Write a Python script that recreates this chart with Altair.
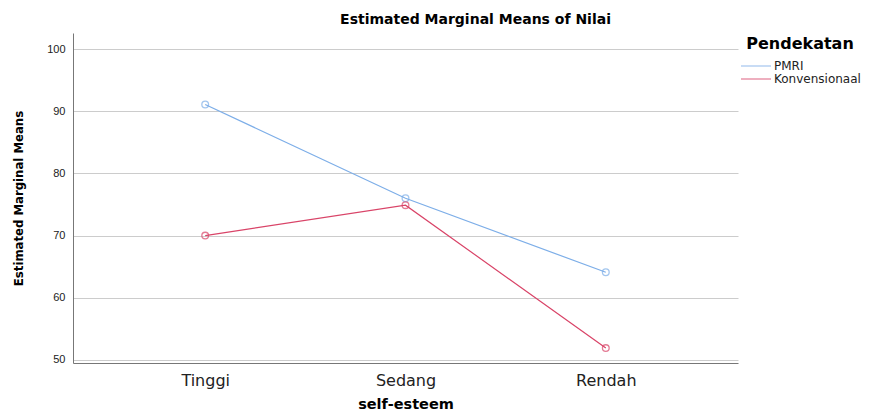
import altair as alt
import pandas as pd

categories = ["Tinggi", "Sedang", "Rendah"]
pmri = [91.1, 76.0, 64.1]
konvensional = [70.0, 74.9, 51.9]
series_names = ["PMRI", "Konvensionaal"]

rows = []
for i, c in enumerate(categories):
    rows.append({"self": c, "value": pmri[i], "Pendekatan": series_names[0]})
    rows.append({"self": c, "value": konvensional[i], "Pendekatan": series_names[1]})
df = pd.DataFrame(rows)

color = alt.Color(
    "Pendekatan:N",
    scale=alt.Scale(domain=series_names, range=["#7DAEE8", "#D94468"]),
    legend=alt.Legend(
        orient="none", legendX=667, legendY=3,
        title="Pendekatan", titleFontSize=16, titleFont="DejaVu Sans",
        titleFontWeight="bold", titleColor="#000000", titleAnchor="middle",
        labelFontSize=12, labelFont="DejaVu Sans", labelColor="#222222",
        symbolType="M-1,0H5", symbolSize=100, symbolStrokeWidth=1.2,
        labelOffset=22, rowPadding=1, titlePadding=8,
    ),
)

x = alt.X(
    "self:N", sort=categories,
    scale=alt.Scale(type="point", padding=0.66),
    axis=alt.Axis(
        title="self-esteem", titleFontSize=14.5, titleFont="DejaVu Sans",
        titleFontWeight="bold", titleColor="#000000", titlePadding=9,
        labelFontSize=16, labelFont="DejaVu Sans", labelColor="#222222",
        labelPadding=9, ticks=False, grid=False, domainColor="#777777",
        labelAngle=0,
    ),
)
y = alt.Y(
    "value:Q",
    scale=alt.Scale(domain=[49.5, 102.6], nice=False, zero=False),
    axis=alt.Axis(
        title="Estimated Marginal Means", titleFontSize=13,
        titleFont="Liberation Sans Narrow, DejaVu Sans Condensed, sans-serif",
        titleFontWeight="bold", titleColor="#000000", titlePadding=21,
        values=[50, 60, 70, 80, 90, 100],
        labelFontSize=11, labelFont="Liberation Sans", labelColor="#222222",
        ticks=False, labelPadding=8, grid=True, gridColor="#CCCCCC",
        domainColor="#777777",
    ),
)

base = alt.Chart(df).encode(x=x, y=y, color=color)
lines = base.mark_line(strokeWidth=1.2)
points = base.mark_point(shape="circle", filled=False, size=45, strokeWidth=1.3)

chart = (lines + points).properties(
    width=665, height=330,
    autosize=alt.AutoSizeParams(type="none"),
    padding={"left": 65, "top": 25, "right": 127, "bottom": 57},
    background="#FFFFFF",
    title=alt.TitleParams(
        "Estimated Marginal Means of Nilai", fontSize=14, font="DejaVu Sans",
        fontWeight="bold", color="#000000", anchor="middle", dx=70, offset=6,
    ),
).configure_view(stroke=None, strokeWidth=0)

chart.save("out.html", embed_options={"renderer": "svg", "actions": False})
